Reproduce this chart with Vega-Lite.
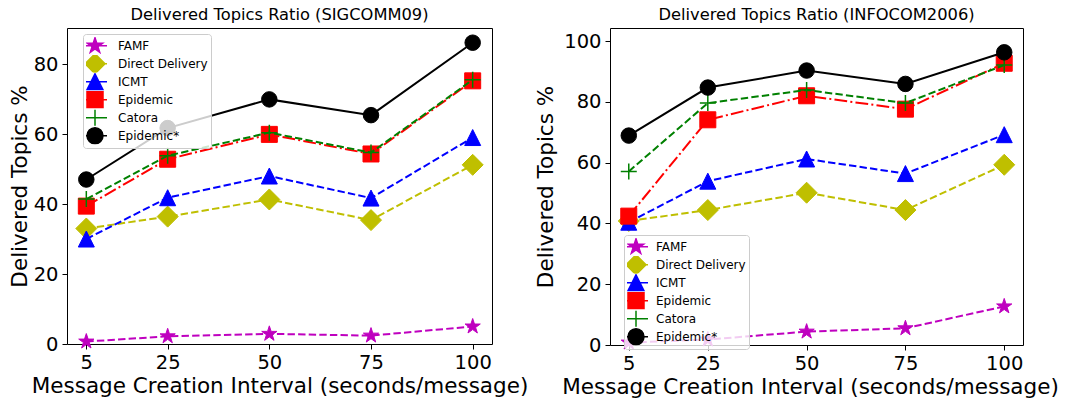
{
  "$schema": "https://vega.github.io/schema/vega-lite/v6.json",
  "padding": {"left": 8, "top": 6, "right": 0, "bottom": 0},
  "background": "white",
  "datasets": {
    "sig": [
      {"x": 5, "s": "FAMF", "v": 0.7}, {"x": 25, "s": "FAMF", "v": 2.2}, {"x": 50, "s": "FAMF", "v": 2.9}, {"x": 75, "s": "FAMF", "v": 2.4}, {"x": 100, "s": "FAMF", "v": 5.0},
      {"x": 5, "s": "Direct Delivery", "v": 33.0}, {"x": 25, "s": "Direct Delivery", "v": 36.4}, {"x": 50, "s": "Direct Delivery", "v": 41.3}, {"x": 75, "s": "Direct Delivery", "v": 35.4}, {"x": 100, "s": "Direct Delivery", "v": 51.2},
      {"x": 5, "s": "ICMT", "v": 30.0}, {"x": 25, "s": "ICMT", "v": 41.8}, {"x": 50, "s": "ICMT", "v": 48.0}, {"x": 75, "s": "ICMT", "v": 41.7}, {"x": 100, "s": "ICMT", "v": 59.0},
      {"x": 5, "s": "Epidemic", "v": 39.4}, {"x": 25, "s": "Epidemic", "v": 52.8}, {"x": 50, "s": "Epidemic", "v": 59.9}, {"x": 75, "s": "Epidemic", "v": 54.3}, {"x": 100, "s": "Epidemic", "v": 75.2},
      {"x": 5, "s": "Catora", "v": 41.4}, {"x": 25, "s": "Catora", "v": 53.8}, {"x": 50, "s": "Catora", "v": 60.4}, {"x": 75, "s": "Catora", "v": 54.7}, {"x": 100, "s": "Catora", "v": 75.5},
      {"x": 5, "s": "Epidemic*", "v": 47.0}, {"x": 25, "s": "Epidemic*", "v": 61.7}, {"x": 50, "s": "Epidemic*", "v": 69.9}, {"x": 75, "s": "Epidemic*", "v": 65.4}, {"x": 100, "s": "Epidemic*", "v": 86.1}
    ],
    "info": [
      {"x": 5, "s": "FAMF", "v": 0.8}, {"x": 25, "s": "FAMF", "v": 1.8}, {"x": 50, "s": "FAMF", "v": 4.4}, {"x": 75, "s": "FAMF", "v": 5.5}, {"x": 100, "s": "FAMF", "v": 12.7},
      {"x": 5, "s": "Direct Delivery", "v": 40.8}, {"x": 25, "s": "Direct Delivery", "v": 44.4}, {"x": 50, "s": "Direct Delivery", "v": 50.1}, {"x": 75, "s": "Direct Delivery", "v": 44.4}, {"x": 100, "s": "Direct Delivery", "v": 59.3},
      {"x": 5, "s": "ICMT", "v": 40.4}, {"x": 25, "s": "ICMT", "v": 53.9}, {"x": 50, "s": "ICMT", "v": 61.2}, {"x": 75, "s": "ICMT", "v": 56.4}, {"x": 100, "s": "ICMT", "v": 69.2},
      {"x": 5, "s": "Epidemic", "v": 42.4}, {"x": 25, "s": "Epidemic", "v": 74.1}, {"x": 50, "s": "Epidemic", "v": 82.0}, {"x": 75, "s": "Epidemic", "v": 77.6}, {"x": 100, "s": "Epidemic", "v": 92.7},
      {"x": 5, "s": "Catora", "v": 57.1}, {"x": 25, "s": "Catora", "v": 79.6}, {"x": 50, "s": "Catora", "v": 83.9}, {"x": 75, "s": "Catora", "v": 79.6}, {"x": 100, "s": "Catora", "v": 92.1},
      {"x": 5, "s": "Epidemic*", "v": 68.9}, {"x": 25, "s": "Epidemic*", "v": 84.7}, {"x": 50, "s": "Epidemic*", "v": 90.3}, {"x": 75, "s": "Epidemic*", "v": 85.9}, {"x": 100, "s": "Epidemic*", "v": 96.3}
    ]
  },
  "config": {
    "font": "DejaVu Sans",
    "view": {"stroke": "black", "strokeWidth": 1},
    "axis": {"domain": false, "grid": false, "tickColor": "black", "tickSize": 5, "tickWidth": 1, "labelFont": "DejaVu Sans", "labelFontSize": 19.5, "labelColor": "black", "labelPadding": 4, "titleFont": "DejaVu Sans", "titleFontSize": 21.5, "titleFontWeight": "normal", "titleColor": "black"},
    "title": {"font": "DejaVu Sans", "fontSize": 16.3, "fontWeight": "normal", "color": "black", "offset": 5, "frame": "group"},
    "legend": {"labelFont": "DejaVu Sans", "labelFontSize": 12, "labelColor": "black", "symbolSize": 256, "symbolStrokeWidth": 1.5, "symbolOpacity": 1, "rowPadding": 0, "clipHeight": 17.5, "padding": 3, "fillColor": "rgba(255,255,255,0.8)", "strokeColor": "#cccccc", "cornerRadius": 3, "labelOffset": 14},
    "concat": {"spacing": 6}
  },
  "resolve": {
    "scale": {"fill": "independent", "stroke": "independent", "shape": "independent"},
    "legend": {"fill": "independent", "stroke": "independent", "shape": "independent"}
  },
  "columns": 2,
  "align": "none",
  "concat": [
    {
      "width": 425,
      "height": 316,
      "title": {"text": "Delivered Topics Ratio (SIGCOMM09)"},
      "data": {"name": "sig"},
      "encoding": {
        "x": {"field": "x", "type": "quantitative", "scale": {"domain": [0.25, 104.75], "nice": false, "zero": false}, "axis": {"values": [5, 25, 50, 75, 100], "title": "Message Creation Interval (seconds/message)", "titlePadding": 4}},
        "y": {"field": "v", "type": "quantitative", "scale": {"domain": [0, 90.3], "nice": false}, "axis": {"values": [0, 20, 40, 60, 80], "title": "Delivered Topics %", "titlePadding": 2}}
      },
      "layer": [
        {"transform": [{"filter": "datum.s === 'FAMF'"}], "mark": {"type": "line", "stroke": "#bf00bf", "strokeWidth": 2, "strokeDash": [7.4, 3.2]}, "encoding": {}},
        {"transform": [{"filter": "datum.s === 'FAMF'"}], "mark": {"type": "point", "shape": "M0,-1L0.2245,-0.309L0.951,-0.309L0.363,0.118L0.588,0.809L0,0.382L-0.588,0.809L-0.363,0.118L-0.951,-0.309L-0.2245,-0.309Z", "size": 256, "filled": true, "fill": "#bf00bf", "stroke": "#bf00bf", "strokeWidth": 1, "opacity": 1}},
        {"transform": [{"filter": "datum.s === 'Direct Delivery'"}], "mark": {"type": "line", "stroke": "#bfbf00", "strokeWidth": 2, "strokeDash": [7.4, 3.2]}, "encoding": {}},
        {"transform": [{"filter": "datum.s === 'Direct Delivery'"}], "mark": {"type": "point", "shape": "M0,-1L1,0L0,1L-1,0Z", "size": 441, "filled": true, "fill": "#bfbf00", "stroke": "#bfbf00", "strokeWidth": 1, "opacity": 1}},
        {"transform": [{"filter": "datum.s === 'ICMT'"}], "mark": {"type": "line", "stroke": "#0000ff", "strokeWidth": 2, "strokeDash": [7.4, 3.2]}, "encoding": {}},
        {"transform": [{"filter": "datum.s === 'ICMT'"}], "mark": {"type": "point", "shape": "M0,-1L1,1L-1,1Z", "size": 256, "filled": true, "fill": "#0000ff", "stroke": "#0000ff", "strokeWidth": 1, "opacity": 1}},
        {"transform": [{"filter": "datum.s === 'Epidemic'"}], "mark": {"type": "line", "stroke": "#ff0000", "strokeWidth": 2, "strokeDash": [12.8, 3.2, 2, 3.2]}, "encoding": {}},
        {"transform": [{"filter": "datum.s === 'Epidemic'"}], "mark": {"type": "point", "shape": "M-1,-1H1V1H-1Z", "size": 256, "filled": true, "fill": "#ff0000", "stroke": "#ff0000", "strokeWidth": 1, "opacity": 1}},
        {"transform": [{"filter": "datum.s === 'Catora'"}], "mark": {"type": "line", "stroke": "#008000", "strokeWidth": 2, "strokeDash": [7.4, 3.2]}, "encoding": {}},
        {"transform": [{"filter": "datum.s === 'Catora'"}], "mark": {"type": "point", "shape": "M-1,0H1M0,-1V1", "size": 256, "filled": false, "stroke": "#008000", "strokeWidth": 1.5, "opacity": 1}},
        {"transform": [{"filter": "datum.s === 'Epidemic*'"}], "mark": {"type": "line", "stroke": "#000000", "strokeWidth": 2}, "encoding": {}},
        {"transform": [{"filter": "datum.s === 'Epidemic*'"}], "mark": {"type": "point", "shape": "circle", "size": 240, "filled": true, "fill": "#000000", "stroke": "#000000", "strokeWidth": 1, "opacity": 1}},
        {
          "transform": [{"filter": "datum.v < -1000"}],
          "mark": {"type": "point", "filled": true},
          "encoding": {
            "fill": {"field": "s", "type": "nominal", "scale": {"domain": ["FAMF", "Direct Delivery", "ICMT", "Epidemic", "Catora", "Epidemic*"], "range": ["#bf00bf", "#bfbf00", "#0000ff", "#ff0000", "#008000", "#000000"]}, "legend": {"title": null, "orient": "none", "legendX": 16, "legendY": 6}},
            "stroke": {"field": "s", "type": "nominal", "scale": {"domain": ["FAMF", "Direct Delivery", "ICMT", "Epidemic", "Catora", "Epidemic*"], "range": ["#bf00bf", "#bfbf00", "#0000ff", "#ff0000", "#008000", "#000000"]}, "legend": {"title": null, "orient": "none", "legendX": 16, "legendY": 6}},
            "shape": {"field": "s", "type": "nominal", "scale": {"domain": ["FAMF", "Direct Delivery", "ICMT", "Epidemic", "Catora", "Epidemic*"], "range": [
              "M-1.5,0H1.5M0,-1L0.2245,-0.309L0.951,-0.309L0.363,0.118L0.588,0.809L0,0.382L-0.588,0.809L-0.363,0.118L-0.951,-0.309L-0.2245,-0.309Z",
              "M-1.5,0H1.5M0,-1.25L1.25,0L0,1.25L-1.25,0Z",
              "M-1.5,0H1.5M0,-1L1,1L-1,1Z",
              "M-1.5,0H1.5M-1,-1H1V1H-1Z",
              "M-1.5,0H1.5M0,-1V1",
              "M-1.5,0H1.5M1,0C1,0.552,0.552,1,0,1C-0.552,1,-1,0.552,-1,0C-1,-0.552,-0.552,-1,0,-1C0.552,-1,1,-0.552,1,0Z"
            ]}, "legend": {"title": null, "orient": "none", "legendX": 16, "legendY": 6}}
          }
        }
      ]
    },
    {
      "width": 413,
      "height": 317,
      "title": {"text": "Delivered Topics Ratio (INFOCOM2006)"},
      "data": {"name": "info"},
      "encoding": {
        "x": {"field": "x", "type": "quantitative", "scale": {"domain": [0.25, 104.75], "nice": false, "zero": false}, "axis": {"values": [5, 25, 50, 75, 100], "title": "Message Creation Interval (seconds/message)", "titlePadding": 4, "titleX": 200}},
        "y": {"field": "v", "type": "quantitative", "scale": {"domain": [0, 104.3], "nice": false}, "axis": {"values": [0, 20, 40, 60, 80, 100], "title": "Delivered Topics %", "titlePadding": 6}}
      },
      "layer": [
        {"transform": [{"filter": "datum.s === 'FAMF'"}], "mark": {"type": "line", "stroke": "#bf00bf", "strokeWidth": 2, "strokeDash": [7.4, 3.2]}, "encoding": {}},
        {"transform": [{"filter": "datum.s === 'FAMF'"}], "mark": {"type": "point", "shape": "M0,-1L0.2245,-0.309L0.951,-0.309L0.363,0.118L0.588,0.809L0,0.382L-0.588,0.809L-0.363,0.118L-0.951,-0.309L-0.2245,-0.309Z", "size": 256, "filled": true, "fill": "#bf00bf", "stroke": "#bf00bf", "strokeWidth": 1, "opacity": 1}},
        {"transform": [{"filter": "datum.s === 'Direct Delivery'"}], "mark": {"type": "line", "stroke": "#bfbf00", "strokeWidth": 2, "strokeDash": [7.4, 3.2]}, "encoding": {}},
        {"transform": [{"filter": "datum.s === 'Direct Delivery'"}], "mark": {"type": "point", "shape": "M0,-1L1,0L0,1L-1,0Z", "size": 441, "filled": true, "fill": "#bfbf00", "stroke": "#bfbf00", "strokeWidth": 1, "opacity": 1}},
        {"transform": [{"filter": "datum.s === 'ICMT'"}], "mark": {"type": "line", "stroke": "#0000ff", "strokeWidth": 2, "strokeDash": [7.4, 3.2]}, "encoding": {}},
        {"transform": [{"filter": "datum.s === 'ICMT'"}], "mark": {"type": "point", "shape": "M0,-1L1,1L-1,1Z", "size": 256, "filled": true, "fill": "#0000ff", "stroke": "#0000ff", "strokeWidth": 1, "opacity": 1}},
        {"transform": [{"filter": "datum.s === 'Epidemic'"}], "mark": {"type": "line", "stroke": "#ff0000", "strokeWidth": 2, "strokeDash": [12.8, 3.2, 2, 3.2]}, "encoding": {}},
        {"transform": [{"filter": "datum.s === 'Epidemic'"}], "mark": {"type": "point", "shape": "M-1,-1H1V1H-1Z", "size": 256, "filled": true, "fill": "#ff0000", "stroke": "#ff0000", "strokeWidth": 1, "opacity": 1}},
        {"transform": [{"filter": "datum.s === 'Catora'"}], "mark": {"type": "line", "stroke": "#008000", "strokeWidth": 2, "strokeDash": [7.4, 3.2]}, "encoding": {}},
        {"transform": [{"filter": "datum.s === 'Catora'"}], "mark": {"type": "point", "shape": "M-1,0H1M0,-1V1", "size": 256, "filled": false, "stroke": "#008000", "strokeWidth": 1.5, "opacity": 1}},
        {"transform": [{"filter": "datum.s === 'Epidemic*'"}], "mark": {"type": "line", "stroke": "#000000", "strokeWidth": 2}, "encoding": {}},
        {"transform": [{"filter": "datum.s === 'Epidemic*'"}], "mark": {"type": "point", "shape": "circle", "size": 240, "filled": true, "fill": "#000000", "stroke": "#000000", "strokeWidth": 1, "opacity": 1}},
        {
          "transform": [{"filter": "datum.v < -1000"}],
          "mark": {"type": "point", "filled": true},
          "encoding": {
            "fill": {"field": "s", "type": "nominal", "scale": {"domain": ["FAMF", "Direct Delivery", "ICMT", "Epidemic", "Catora", "Epidemic*"], "range": ["#bf00bf", "#bfbf00", "#0000ff", "#ff0000", "#008000", "#000000"]}, "legend": {"title": null, "orient": "none", "legendX": 14, "legendY": 207, "labelOffset": 11}},
            "stroke": {"field": "s", "type": "nominal", "scale": {"domain": ["FAMF", "Direct Delivery", "ICMT", "Epidemic", "Catora", "Epidemic*"], "range": ["#bf00bf", "#bfbf00", "#0000ff", "#ff0000", "#008000", "#000000"]}, "legend": {"title": null, "orient": "none", "legendX": 14, "legendY": 207, "labelOffset": 11}},
            "shape": {"field": "s", "type": "nominal", "scale": {"domain": ["FAMF", "Direct Delivery", "ICMT", "Epidemic", "Catora", "Epidemic*"], "range": [
              "M-1.5,0H1.5M0,-1L0.2245,-0.309L0.951,-0.309L0.363,0.118L0.588,0.809L0,0.382L-0.588,0.809L-0.363,0.118L-0.951,-0.309L-0.2245,-0.309Z",
              "M-1.5,0H1.5M0,-1.25L1.25,0L0,1.25L-1.25,0Z",
              "M-1.5,0H1.5M0,-1L1,1L-1,1Z",
              "M-1.5,0H1.5M-1,-1H1V1H-1Z",
              "M-1.5,0H1.5M0,-1V1",
              "M-1.5,0H1.5M1,0C1,0.552,0.552,1,0,1C-0.552,1,-1,0.552,-1,0C-1,-0.552,-0.552,-1,0,-1C0.552,-1,1,-0.552,1,0Z"
            ]}, "legend": {"title": null, "orient": "none", "legendX": 14, "legendY": 207, "labelOffset": 11}}
          }
        }
      ]
    }
  ]
}
